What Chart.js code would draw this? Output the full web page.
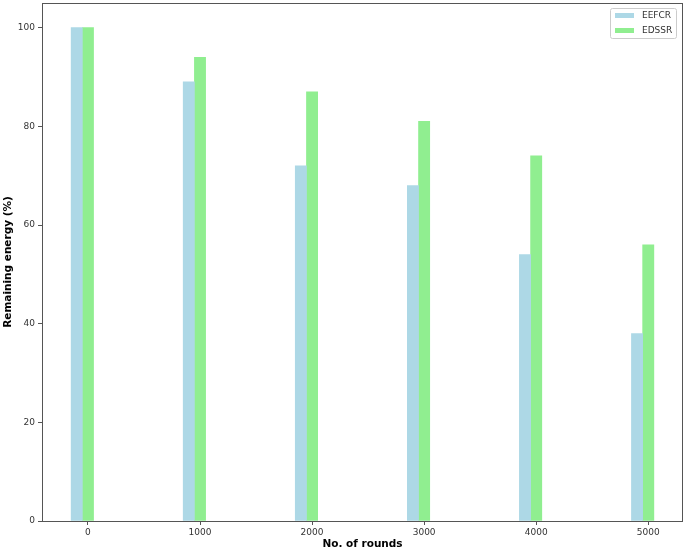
<!DOCTYPE html>
<html>
<head>
<meta charset="utf-8">
<script src="https://cdn.jsdelivr.net/npm/chart.js@4/dist/chart.umd.min.js"></script>
<style>
  html, body { margin: 0; padding: 0; background: #ffffff; }
  #wrap { width: 685px; height: 552px; }
</style>
</head>
<body>
<div id="wrap"><canvas id="c" width="685" height="552"></canvas></div>
<script>
// ---- data ----
const rounds = [0, 1000, 2000, 3000, 4000, 5000];
const eefcr = [100, 89, 72, 68, 54, 38];
const edssr = [100, 94, 87, 81, 74, 56];
const seriesNames = ['EEFCR', 'EDSSR'];
const xTicks = [0, 1000, 2000, 3000, 4000, 5000];
const yTicks = [0, 20, 40, 60, 80, 100];
const xTitle = 'No. of rounds';
const yTitle = 'Remaining energy (%)';
const barShift = 100; // EEFCR bars sit one bar-width left of each round

const colors = ['#add8e6', '#90ee90'];
const axisColor = '#555555';
const textColor = '#333333';
const fontFamily = '"DejaVu Sans", sans-serif';

const boxPlugin = {
  id: 'box',
  afterDraw(chart) {
    const { ctx, chartArea: a } = chart;
    ctx.save();
    ctx.strokeStyle = axisColor;
    ctx.lineWidth = 1;
    ctx.strokeRect(Math.round(a.left) + 0.5, Math.round(a.top) + 0.5,
                   Math.round(a.right - a.left) - 1, Math.round(a.bottom - a.top));
    ctx.restore();
  }
};

const legendPlugin = {
  id: 'mplLegend',
  afterDraw(chart) {
    const { ctx, chartArea: a } = chart;
    const ds = chart.data.datasets;
    const w = 66, rowH = 15, h = 30;
    const x0 = a.right - 7 - w, y0 = a.top + 5;
    ctx.save();
    ctx.fillStyle = 'rgba(255,255,255,0.8)';
    ctx.strokeStyle = '#cccccc';
    ctx.lineWidth = 1;
    ctx.beginPath();
    if (ctx.roundRect) ctx.roundRect(x0 + 0.5, y0 + 0.5, w, h, 2); else ctx.rect(x0 + 0.5, y0 + 0.5, w, h);
    ctx.fill();
    ctx.stroke();
    ctx.font = '9px ' + fontFamily;
    ctx.textBaseline = 'middle';
    ctx.textAlign = 'left';
    ds.forEach((d, i) => {
      const cy = y0 + 7.5 + i * rowH;
      ctx.fillStyle = d.backgroundColor;
      ctx.fillRect(x0 + 5, cy - 2.5, 19, 5);
      ctx.fillStyle = textColor;
      ctx.fillText(d.label, x0 + 32, cy);
    });
    ctx.restore();
  }
};

new Chart(document.getElementById('c'), {
  type: 'bar',
  data: {
    datasets: [
      { label: seriesNames[0], data: rounds.map((r, i) => ({ x: r - barShift, y: eefcr[i] })),
        backgroundColor: colors[0], borderWidth: 0, grouped: false,
        categoryPercentage: 1, barPercentage: 1 },
      { label: seriesNames[1], data: rounds.map((r, i) => ({ x: r, y: edssr[i] })),
        backgroundColor: colors[1], borderWidth: 0, grouped: false,
        categoryPercentage: 1, barPercentage: 1 }
    ]
  },
  options: {
    responsive: false,
    animation: false,
    layout: { padding: { top: 3, right: 2, left: 0, bottom: 0 } },
    plugins: { legend: { display: false }, tooltip: { enabled: false } },
    scales: {
      x: {
        type: 'linear',
        offset: false,
        min: -410,
        max: 5310,
        afterBuildTicks(s) { s.ticks = xTicks.map(v => ({ value: v })); },
        afterFit(s) { s.height = 31; s.paddingLeft = 0; s.paddingRight = 0; },
        border: { display: false },
        grid: { display: true, offset: false, drawOnChartArea: false, drawTicks: true, tickLength: 4,
                tickColor: axisColor, tickWidth: 1 },
        ticks: { color: textColor, font: { family: fontFamily, size: 9 }, padding: 2,
                 maxRotation: 0, autoSkip: false, callback: v => String(v) },
        title: { display: true, text: xTitle, color: '#000',
                 font: { family: fontFamily, size: 10.5, weight: 'bold' },
                 padding: { top: 0, bottom: 1 } }
      },
      y: {
        min: 0,
        max: 105,
        afterBuildTicks(s) { s.ticks = yTicks.map(v => ({ value: v })); },
        afterFit(s) { s.width = 42; s.paddingTop = 0; s.paddingBottom = 0; },
        border: { display: false },
        grid: { display: true, offset: false, drawOnChartArea: false, drawTicks: true, tickLength: 4,
                tickColor: axisColor, tickWidth: 1 },
        ticks: { color: textColor, font: { family: fontFamily, size: 9 }, padding: 3,
                 callback: v => String(v) },
        title: { display: true, text: yTitle, color: '#000',
                 font: { family: fontFamily, size: 10.5, weight: 'bold' },
                 padding: { top: 2, bottom: 0 } }
      }
    }
  },
  plugins: [boxPlugin, legendPlugin]
});
</script>
</body>
</html>
